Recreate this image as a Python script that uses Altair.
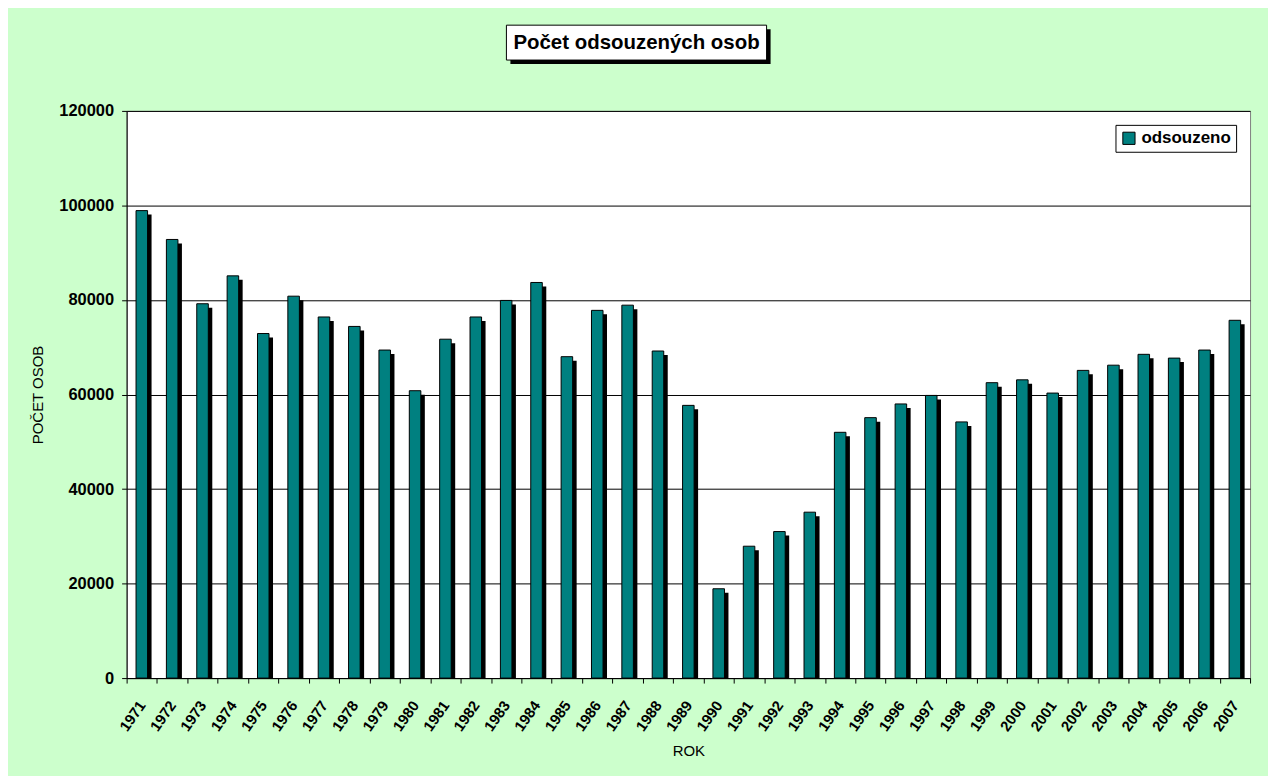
import altair as alt
import pandas as pd

title_text = "Počet odsouzených osob"
legend_label = "odsouzeno"

years = ["1971", "1972", "1973", "1974", "1975", "1976", "1977", "1978", "1979", "1980",
         "1981", "1982", "1983", "1984", "1985", "1986", "1987", "1988", "1989", "1990",
         "1991", "1992", "1993", "1994", "1995", "1996", "1997", "1998", "1999", "2000",
         "2001", "2002", "2003", "2004", "2005", "2006", "2007"]
counts = [98900, 92800, 79200, 85100, 72900, 80800, 76400, 74400, 69400, 60800,
          71700, 76400, 79900, 83700, 68000, 77800, 78900, 69200, 57700, 18900,
          27900, 31000, 35100, 52000, 55100, 58000, 59800, 54200, 62500, 63100,
          60300, 65100, 66200, 68500, 67700, 69400, 75700]
y_ticks = [0, 20000, 40000, 60000, 80000, 100000, 120000]

df = pd.DataFrame({"rok": years, "pocet": counts, "serie": [legend_label] * len(years)})

FONT = "Liberation Sans"

x_enc = alt.X("rok:O", title="ROK", sort=years,
              scale=alt.Scale(paddingInner=0, paddingOuter=0),
              axis=alt.Axis(labelAngle=-55, tickBand="extent", labelFontSize=15,
                            labelFontWeight="bold", labelPadding=19, tickSize=5,
                            titleFontSize=15, titleFontWeight="normal", titlePadding=10,
                            grid=False))
y_enc = alt.Y("pocet:Q", title="POČET OSOB",
              scale=alt.Scale(domain=[0, 120000], nice=False),
              axis=alt.Axis(values=y_ticks, format="d", labelFontSize=16.5,
                            labelFontWeight="bold", labelPadding=8, tickSize=5,
                            titleFontSize=15, titleFontWeight="normal", titlePadding=13,
                            grid=True, gridColor="black", gridOpacity=1, gridWidth=1))

bar_w = alt.RelativeBandSize(0.38)

shadow = alt.Chart(df).mark_bar(color="black", width=bar_w, xOffset=4, yOffset=4,
                                clip=True).encode(x=x_enc, y=y_enc)

front = alt.Chart(df).mark_bar(stroke="black", strokeWidth=1, width=bar_w).encode(
    x=x_enc, y=y_enc,
    color=alt.Color("serie:N", scale=alt.Scale(domain=[legend_label], range=["#008080"]),
                    legend=alt.Legend(title=None, orient="top-right", offset=14,
                                      fillColor="white", strokeColor="black", padding=5,
                                      cornerRadius=0, symbolType="square", symbolSize=150,
                                      symbolStrokeColor="black", symbolStrokeWidth=1,
                                      labelFontSize=17, labelFontWeight="bold",
                                      labelFont=FONT, labelColor="black")),
)

tdf = pd.DataFrame({"t": [title_text]})
t_shadow = alt.Chart(tdf).mark_rect(color="black").encode(
    x=alt.value(385), x2=alt.value(646), y=alt.value(-82), y2=alt.value(-47))
t_box = alt.Chart(tdf).mark_rect(fill="white", stroke="black", strokeWidth=1).encode(
    x=alt.value(381), x2=alt.value(642), y=alt.value(-86), y2=alt.value(-51))
t_text = alt.Chart(tdf).mark_text(font=FONT, fontSize=20.5, fontWeight="bold", color="black",
                                  align="center", baseline="middle").encode(
    x=alt.value(511.5), y=alt.value(-68), text="t:N")

chart = alt.layer(shadow, front, t_shadow, t_box, t_text).properties(
    width=1127, height=569,
    autosize=alt.AutoSizeParams(type="none"),
    padding={"left": 119, "top": 102, "right": 18, "bottom": 97},
    background="#CCFFCC",
).configure_view(fill="white", stroke="#808080", strokeWidth=1).configure_axis(
    domainColor="black", tickColor="black", labelColor="black", titleColor="black",
    labelFont=FONT, titleFont=FONT,
)

chart.save("out.html", embed_options={"renderer": "svg", "actions": False})
